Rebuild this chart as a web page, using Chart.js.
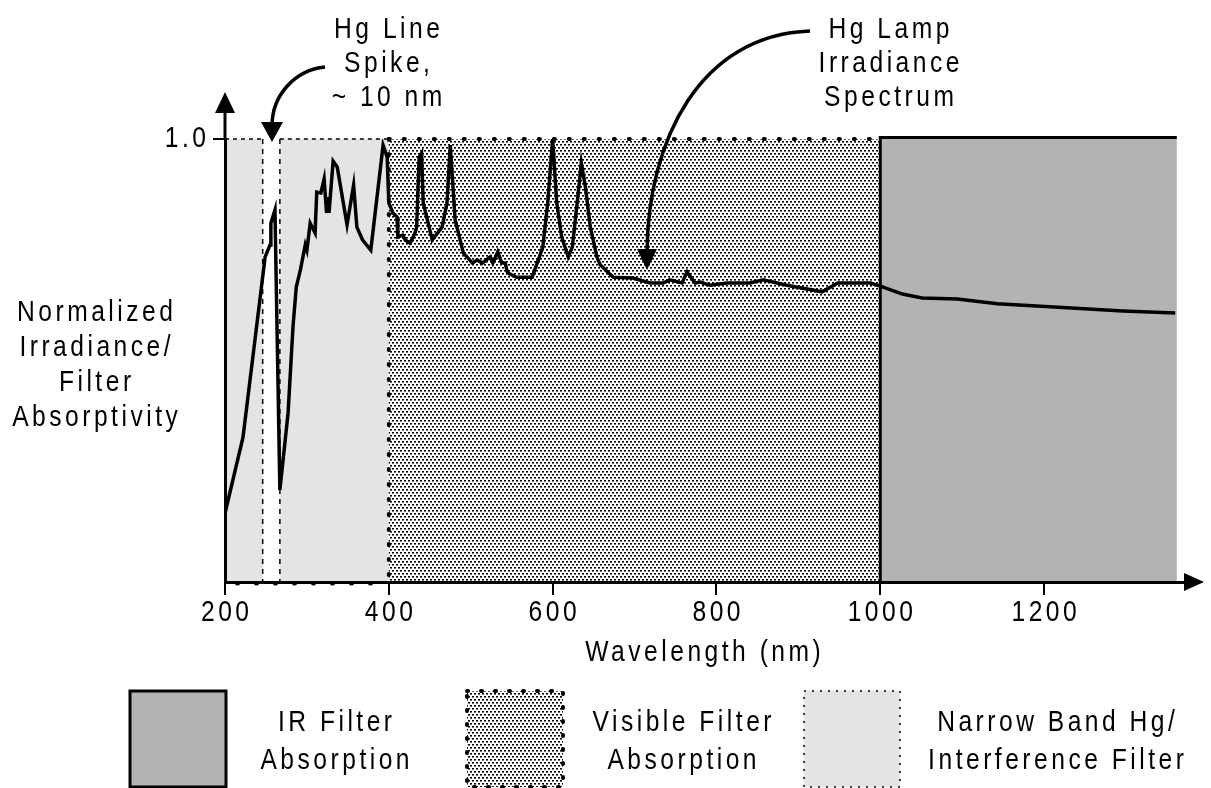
<!DOCTYPE html>
<html><head><meta charset="utf-8">
<script src="https://cdn.jsdelivr.net/npm/chart.js@4/dist/chart.umd.min.js"></script>
<style>html,body{margin:0;padding:0;background:#fff}#wrap{width:1211px;height:788px}</style>
</head><body><div id="wrap"><canvas id="c" width="1211" height="788"></canvas></div>
<script>
// ---- data ----
const wavelengths = [200,222,249,255,256,261,267,277,283,287,292,298,300,304,310,312,317,321,324,326,327,332,337,349,357,361,368,378,393,398,400,405,410,411,417,420,426,432,434,437,440,442,453,465,471,475,481,491,502,508,514,524,527,533,538,542,545,556,575,588,594,600,605,611,619,624,630,635,640,646,654,658,674,698,719,735,743,758,764,774,780,792,813,841,857,886,929,948,972,988,1000,1027,1051,1094,1143,1228,1296,1360];
const irradiance = [0.155,0.327,0.734,0.761,0.81,0.84,0.208,0.381,0.576,0.666,0.704,0.761,0.749,0.81,0.788,0.88,0.878,0.91,0.833,0.869,0.833,0.95,0.937,0.806,0.896,0.801,0.772,0.749,0.986,0.959,0.856,0.833,0.824,0.779,0.783,0.772,0.765,0.788,0.801,0.959,0.968,0.856,0.772,0.801,0.856,0.986,0.817,0.743,0.72,0.727,0.72,0.734,0.72,0.745,0.72,0.72,0.698,0.688,0.688,0.756,0.856,1.0,0.856,0.779,0.734,0.756,0.856,0.946,0.892,0.801,0.734,0.716,0.688,0.686,0.675,0.675,0.682,0.675,0.70,0.675,0.677,0.67,0.675,0.675,0.682,0.67,0.655,0.675,0.675,0.675,0.668,0.65,0.641,0.639,0.628,0.619,0.612,0.607];
const xTicks = [200,400,600,800,1000,1200];
const yTicks = [1.0];
const narrowBand = [200,400];     // interference filter band (nm)
const hgGap = [246,267];          // Hg line pass window (nm)
const visibleBand = [400,1000];
const irBand = [1000,1362];
const bandTop = 1.0;
const xRange = [200,1372];
const xTitle = 'Wavelength (nm)';
const yTitleLines = ['Normalized','Irradiance/','Filter','Absorptivity'];

const FONT = "'Liberation Sans Narrow','Liberation Sans',Arial,sans-serif";
const SX = 0.82;            // horizontal condensing of the sans face
const LS = 3.5;             // visual letter spacing, px
const LSN = LS / SX;
Chart.defaults.font.family = FONT;
Chart.defaults.font.size = 30;
Chart.defaults.color = '#000';

function makePattern(ctx){
  const c = document.createElement('canvas'); c.width = 4; c.height = 6;
  const p = c.getContext('2d');
  p.fillStyle = '#fff'; p.fillRect(0,0,4,6);
  p.fillStyle = '#000'; p.fillRect(0,0,2,1); p.fillRect(2,3,2,1);
  p.fillStyle = '#6a6a6a'; p.fillRect(0,1,2,1); p.fillRect(2,4,2,1);
  return ctx.createPattern(c,'repeat');
}
function line(ctx,x1,y1,x2,y2,w,dash,cap){
  ctx.save(); ctx.beginPath(); ctx.lineWidth = w; ctx.strokeStyle = '#000';
  ctx.setLineDash(dash||[]); ctx.lineCap = cap||'butt';
  ctx.moveTo(x1,y1); ctx.lineTo(x2,y2); ctx.stroke(); ctx.restore();
}
function tri(ctx,pts){
  ctx.beginPath(); ctx.moveTo(pts[0][0],pts[0][1]);
  for (let i=1;i<pts.length;i++) ctx.lineTo(pts[i][0],pts[i][1]);
  ctx.closePath(); ctx.fillStyle = '#000'; ctx.fill();
}
// condensed text drawing
function text(ctx,s,x,y,align,baseline){
  ctx.save();
  ctx.font = '30px ' + FONT; ctx.letterSpacing = LSN + 'px';
  ctx.fillStyle = '#000';
  ctx.textAlign = align || 'center'; ctx.textBaseline = baseline || 'alphabetic';
  ctx.translate(x, y); ctx.scale(SX, 1);
  const off = (align === 'right') ? LSN : (align === 'left' ? 0 : LSN/2);
  ctx.fillText(s, off, 0);
  ctx.restore();
}
// tick labels drawn condensed at the positions the scale computes
function condensedLabels(chartArea){
  const items = this.getLabelItems(chartArea);
  for (const it of items){
    const o = it.options;
    text(this.ctx, String(it.label), o.translation[0], o.translation[1] + it.textOffset, o.textAlign, o.textBaseline);
  }
}

const bandsPlugin = {
  id: 'bands',
  beforeDraw(chart){
    const ctx = chart.ctx, xs = chart.scales.x, ys = chart.scales.y;
    const X = v => xs.getPixelForValue(v), Y = v => ys.getPixelForValue(v);
    const top = Y(bandTop), bot = Y(0);
    ctx.save();
    // narrow band
    ctx.fillStyle = '#e4e4e4';
    ctx.fillRect(X(narrowBand[0]), top, X(hgGap[0]) - X(narrowBand[0]), bot - top);
    ctx.fillRect(X(hgGap[1]), top, X(narrowBand[1]) - X(hgGap[1]), bot - top);
    line(ctx, X(narrowBand[0]), top, X(hgGap[0]), top, 1.5, [4,4]);
    line(ctx, X(hgGap[1]), top, X(narrowBand[1]), top, 1.5, [4,4]);
    line(ctx, X(hgGap[0]), top, X(hgGap[0]), bot, 1.5, [5,5]);
    line(ctx, X(hgGap[1]), top, X(hgGap[1]), bot, 1.5, [5,5]);
    line(ctx, X(narrowBand[0])+12, bot+1.5, X(narrowBand[1]), bot+1.5, 4, [1,18], 'round');
    // visible band
    ctx.fillStyle = makePattern(ctx);
    ctx.fillRect(X(visibleBand[0]), top, X(visibleBand[1]) - X(visibleBand[0]), bot - top);
    line(ctx, X(visibleBand[0]), top, X(visibleBand[1]), top, 4, [1,14], 'round');
    line(ctx, X(visibleBand[0]), top, X(visibleBand[0]), bot, 4, [1,14], 'round');
    // IR band
    ctx.fillStyle = '#b3b3b3';
    ctx.fillRect(X(irBand[0]), top, X(irBand[1]) - X(irBand[0]), bot - top);
    line(ctx, X(irBand[0]), top - 1.5, X(irBand[1]), top - 1.5, 3);
    line(ctx, X(irBand[0]), top - 3, X(irBand[0]), bot, 3);
    ctx.restore();
  },
  afterDraw(chart){
    const ctx = chart.ctx, a = chart.chartArea, xs = chart.scales.x;
    ctx.save();
    // axis arrows
    line(ctx, a.left, a.top, a.left, 108, 3);
    tri(ctx, [[a.left, 92], [a.left-10, 113], [a.left+10, 113]]);
    tri(ctx, [[1204, a.bottom], [1184, a.bottom-9], [1184, a.bottom+9]]);
    // annotation arrows
    ctx.lineWidth = 3.5; ctx.strokeStyle = '#000'; ctx.setLineDash([]);
    ctx.beginPath(); ctx.moveTo(325, 67); ctx.bezierCurveTo(295, 70, 272, 95, 272, 126); ctx.stroke();
    tri(ctx, [[272, 142], [261, 122], [283, 122]]);
    ctx.beginPath(); ctx.moveTo(810, 31); ctx.bezierCurveTo(700, 35, 648, 140, 647, 252); ctx.stroke();
    tri(ctx, [[647, 270], [637, 249], [657, 249]]);
    // texts
    [['Hg Line',38],['Spike,',72],['~ 10 nm',106]].forEach(t => text(ctx, t[0], 387, t[1]));
    [['Hg Lamp',38],['Irradiance',72],['Spectrum',106]].forEach(t => text(ctx, t[0], 889, t[1]));
    yTitleLines.forEach((s,i) => text(ctx, s, 95, 321 + i*35));
    text(ctx, xTitle, (xs.left + xs.right)/2 - 2, 661);
    // legend
    const ly = 691, lh = 96;
    ctx.fillStyle = '#b3b3b3'; ctx.fillRect(130, ly, 96, lh);
    ctx.lineWidth = 3; ctx.strokeStyle = '#000'; ctx.strokeRect(130, ly, 96, lh);
    ctx.fillStyle = makePattern(ctx); ctx.fillRect(467, ly, 96, lh);
    ctx.save(); ctx.lineWidth = 4; ctx.lineCap = 'round'; ctx.setLineDash([1,13]); ctx.strokeRect(467, ly, 96, lh); ctx.restore();
    ctx.fillStyle = '#e4e4e4'; ctx.fillRect(804, ly, 96, lh);
    ctx.save(); ctx.lineWidth = 1.5; ctx.setLineDash([2,6]); ctx.strokeRect(804, ly, 96, lh); ctx.restore();
    text(ctx, 'IR Filter', 335, 731); text(ctx, 'Absorption', 335, 769);
    text(ctx, 'Visible Filter', 682, 731); text(ctx, 'Absorption', 682, 769);
    text(ctx, 'Narrow Band Hg/', 1056, 731); text(ctx, 'Interference Filter', 1056, 769);
    ctx.restore();
  }
};

new Chart(document.getElementById('c'), {
  type: 'line',
  data: { datasets: [{
    data: wavelengths.map((w,i) => ({x: w, y: irradiance[i]})),
    borderColor: '#000', borderWidth: 3.5, pointRadius: 0, tension: 0, fill: false
  }]},
  options: {
    responsive: false, animation: false,
    layout: { padding: { left: 0, top: 139, right: 26, bottom: 0 } },
    plugins: { legend: { display: false }, tooltip: { enabled: false } },
    scales: {
      x: {
        type: 'linear', min: xRange[0], max: xRange[1],
        afterBuildTicks: s => { s.ticks = xTicks.map(v => ({value: v})); },
        afterFit: s => { s.height = 206; s.drawLabels = condensedLabels; },
        ticks: { autoSkip: false, maxRotation: 0, padding: 0, font: { size: 30 }, callback: v => String(v) },
        grid: { drawOnChartArea: false, drawTicks: true, tickLength: 13, color: '#000', lineWidth: 2 },
        border: { display: true, color: '#000', width: 3 },
        title: { display: false, text: xTitle }
      },
      y: {
        type: 'linear', min: 0, max: 1.0,
        afterBuildTicks: s => { s.ticks = yTicks.map(v => ({value: v})); },
        afterFit: s => { s.width = 225; s.drawLabels = condensedLabels; },
        ticks: { padding: 7, font: { size: 30 }, callback: v => Number(v).toFixed(1) },
        grid: { drawOnChartArea: false, drawTicks: true, tickLength: 12, color: '#000', lineWidth: 2 },
        border: { display: true, color: '#000', width: 3 }
      }
    }
  },
  plugins: [bandsPlugin]
});
</script></body></html>
